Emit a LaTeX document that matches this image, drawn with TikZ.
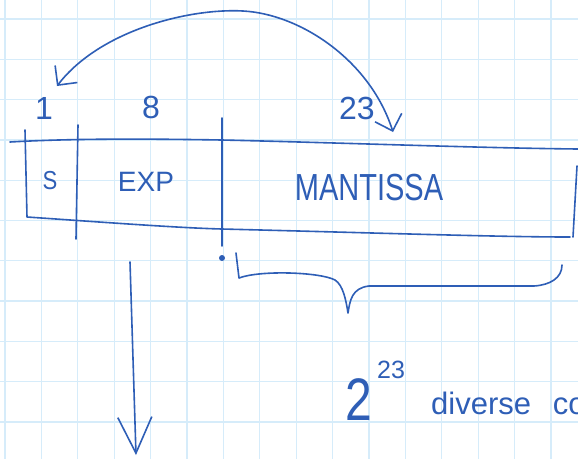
\documentclass[tikz,border=0pt]{standalone}
\usepackage{fontspec}
\setmainfont{Liberation Sans}
\usepackage{tikz}
\usetikzlibrary{arrows.meta,positioning,calc}
\definecolor{pen}{HTML}{2E5EB6}
\definecolor{gridblue}{HTML}{D6ECFA}

\begin{document}
\begin{tikzpicture}[x=1pt, y=-1pt,
    gridline/.style={draw=gridblue, line width=1.3pt},
    ink/.style={draw=pen, line width=1.6pt, line cap=round, line join=round},
    hand/.style={text=pen, inner sep=0pt, font=\fontsize{#1}{#1}\selectfont},
    hand/.default=30,
    barbs/.style={{Straight Barb[length=14pt, width=28pt]}-{Straight Barb[length=14pt, width=28pt]}},
    bigbarb/.style={-{Straight Barb[length=36pt, width=34pt]}},
]
\useasboundingbox (0,0) rectangle (578,459);
\clip (0,0) rectangle (578,459);
\fill[white] (0,0) rectangle (578,459);

\foreach \gx in {0,...,15}
    \draw[gridline] (5+36.4*\gx,0) -- ++(0,459);
\foreach \gy in {0,...,11}
    \draw[gridline] (0,19+40.3*\gy) -- ++(578,0);

% the word
\draw[ink] (10,142) .. controls (80,138) and (160,139) .. (222,140)
    .. controls (350,143) and (480,148) .. (578,149);
\draw[ink] (25,130) -- (27,217) .. controls (100,222) and (180,228) .. (222,229)
    .. controls (380,233) and (500,237) .. (570,237);
\draw[ink] (577,166) -- (573,237);
\draw[ink] (78,125) -- (76,239);
\draw[ink] (222,118) -- (222,246);
\fill[pen] (222,258) circle (3pt);

\node[hand=26, xscale=0.85] (cellsign) at (50,181) {S};
\node[hand=28] (cellexp) at (146,182) {EXP};
\node[hand=29, yscale=1.3] (cellmant) at (369,188) {MANTISSA};

\node[hand=32] (numsign) at (44,108) {1};
\node[hand=32] (numexp) at (151,107) {8};
\node[hand=32] (nummant) at (357,108) {23};

\coordinate (signtip) at (57,86);
\coordinate (manttip) at (393,132);
\draw[ink, barbs] (manttip) .. controls (370,60) and (300,14) .. (243,11)
    .. controls (190,8) and (100,30) .. (signtip);

% mantissa brace
\draw[ink] (236,253) -- (239,278) .. controls (260,270) and (320,272) .. (335,280)
    .. controls (343,285) and (346,300) .. (348,313)
    .. controls (350,300) and (352,288) .. (369,286) -- (534,286)
    .. controls (550,285) and (562,278) .. (562,265);

\coordinate (expdown) at (130,262);
\coordinate (expend) at (136,455);
\draw[ink, bigbarb] (expdown) -- (expend);

\node[hand=60, xscale=0.8, anchor=base west] (twobase) at (345,420) {2};
\node[hand=25, anchor=base west] (twoexp) at (377,378) {23};
\node[hand=31, anchor=base west] (count) at (431,414) {diverse\hspace{0.7em}co};
\end{tikzpicture}
\end{document}
